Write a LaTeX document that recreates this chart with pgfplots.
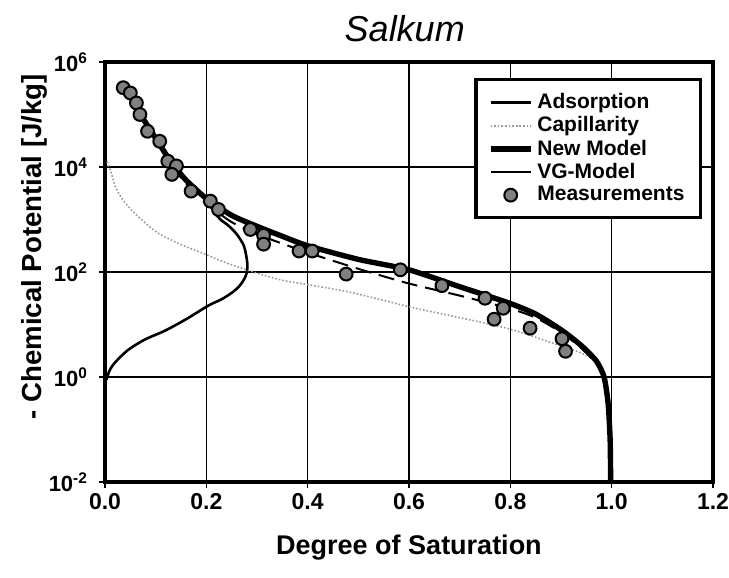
\documentclass[border=0pt]{standalone}
\usepackage{fontspec}
\setmainfont{Liberation Sans}
\usepackage{pgfplots}
\pgfplotsset{compat=1.18}

\begin{document}
\begin{tikzpicture}
\begin{axis}[
  scale only axis,
  width=304pt, height=210pt,
  xmin=0, xmax=1.2,
  ymode=log, ymin=1e-2, ymax=1e6,
  xtick={0,0.2,0.4,0.6,0.8,1.0,1.2},
  xticklabels={0.0,0.2,0.4,0.6,0.8,1.0,1.2},
  ytick={1e-2,1,1e2,1e4,1e6},
  yticklabels={10\textsuperscript{-2},10\textsuperscript{0},10\textsuperscript{2},10\textsuperscript{4},10\textsuperscript{6}},
  yminorticks=false,
  grid=major,
  grid style={black, line width=0.6pt},
  axis line style={line width=1.6pt},
  tick align=outside, tick pos=left, major tick length=3pt,
  tick style={black, line width=0.6pt},
  x tick label style={font=\bfseries\fontsize{11.5}{13}\selectfont, yshift=1pt},
  y tick label style={font=\bfseries\fontsize{11}{12}\selectfont, xshift=-2pt},
  title={Salkum},
  title style={font=\itshape\fontsize{18}{20}\selectfont, at={(axis description cs:0.493,1.052)}, anchor=center},
  xlabel={Degree of Saturation},
  xlabel style={font=\bfseries\fontsize{13.5}{15}\selectfont, at={(axis description cs:0.5,-0.157)}, anchor=center},
  ylabel={- Chemical Potential [J/kg]},
  ylabel style={font=\bfseries\fontsize{13.8}{16}\selectfont, at={(axis description cs:-0.116,0.56)}, anchor=center, rotate=0},
  legend cell align=left,
  legend style={at={(axis description cs:0.982,0.962)}, anchor=north east,
    draw=black, line width=1.6pt, fill=white,
    font=\bfseries\fontsize{10.5}{11}\selectfont, row sep=-1.5pt,
    inner xsep=6pt, inner ysep=5pt},
  legend image code/.code={\draw[mark repeat=2,mark phase=2,#1] plot coordinates {(0pt,0pt) (10pt,0pt) (20pt,0pt)};},
]

\addplot[black, line width=1.3pt, smooth, tension=0.5] coordinates {
(0.003,0.89) (0.008,1.26) (0.015,1.66) (0.026,2.19) (0.04,2.95) (0.052,3.63)
(0.08,5.25) (0.118,7.59) (0.16,12.6) (0.204,22.9) (0.23,30.2) (0.251,40.7)
(0.265,53.7) (0.275,74.1) (0.28,97.7) (0.281,126) (0.28,174) (0.274,316)
(0.26,525) (0.244,759) (0.228,1000) (0.215,1413) (0.2,2399) (0.16,5623)
(0.13,12589) (0.1,35481) (0.07,1e5) (0.05,2.24e5) (0.033,3.98e5)
};
\addlegendentry{Adsorption}

\addplot[gray!80, line width=0.8pt, densely dotted, smooth, tension=0.6] coordinates {
(0.004,12589) (0.008,10000) (0.0125,7586) (0.02,4365) (0.032,2630) (0.045,1820)
(0.065,1150) (0.099,600) (0.13,410) (0.165,290) (0.2,214) (0.231,160)
(0.277,112) (0.343,72.4) (0.4,57.5) (0.476,42.7) (0.55,28.8) (0.608,20.9)
(0.7,13.5) (0.8,8.13) (0.879,4.57) (0.92,3.39) (0.965,2.14) (0.985,1.12)
(0.993,0.316) (0.997,0.063) (0.998,0.01)
};
\addlegendentry{Capillarity}

\addplot[black, line width=2.7pt, smooth, tension=0.4] coordinates {
(0.033,3.98e5) (0.05,2.24e5) (0.07,1.0e5) (0.1,3.55e4) (0.13,1.26e4)
(0.16,5620) (0.2,2510) (0.25,1200) (0.3,741) (0.35,479) (0.4,316)
(0.5,174) (0.6,110) (0.7,52.5) (0.8,25.1) (0.85,15.8) (0.9,7.94)
(0.94,3.98) (0.97,2.0) (0.985,1.0) (0.993,0.316) (0.997,0.063) (0.998,0.01)
};
\addlegendentry{New Model}

\addplot[black, line width=1pt, dash pattern=on 8pt off 4pt, smooth, tension=0.4,
  legend image post style={solid}] coordinates {
(0.033,3.98e5) (0.05,2.24e5) (0.07,1.0e5) (0.1,3.16e4) (0.13,1.12e4)
(0.16,4790) (0.2,2000) (0.25,891) (0.3,525) (0.35,347) (0.4,234)
(0.5,115) (0.6,60.3) (0.7,35.5) (0.8,20.0) (0.85,13.5) (0.9,7.08)
(0.94,3.55) (0.97,1.78) (0.985,0.89) (0.993,0.316) (0.997,0.063) (0.998,0.01)
};
\addlegendentry{VG-Model}

\addplot[only marks, mark=*, mark size=3.2pt,
  mark options={fill=black!50, draw=black, line width=1pt}] coordinates {
(0.036,3.24e5) (0.05,2.57e5) (0.062,1.66e5) (0.069,1.0e5) (0.084,4.79e4)
(0.108,3.09e4) (0.124,1.29e4) (0.141,1.05e4) (0.132,7240) (0.170,3470)
(0.208,2240) (0.224,1550) (0.287,646) (0.313,501) (0.313,339)
(0.383,251) (0.409,251) (0.476,91.2) (0.583,110) (0.665,55.0)
(0.750,31.6) (0.786,20.4) (0.768,12.6) (0.839,8.51) (0.902,5.37) (0.909,3.09)
};
\addlegendentry{Measurements}
\end{axis}
\pgfresetboundingbox
\path ([xshift=-52.5pt,yshift=-48pt]current axis.south west) rectangle ([xshift=8pt,yshift=31pt]current axis.north east);
\end{tikzpicture}
\end{document}
